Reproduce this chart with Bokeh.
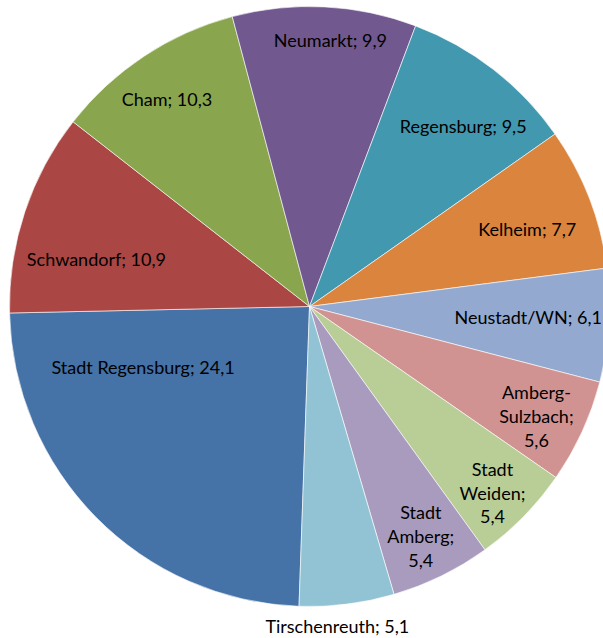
import math
from bokeh.plotting import figure
from bokeh.models import Range1d, ColumnDataSource
from bokeh.core.properties import value
from bokeh.embed import file_html
from bokeh.resources import INLINE

# ---- data ----
regions = ["Stadt Regensburg", "Schwandorf", "Cham", "Neumarkt", "Regensburg",
           "Kelheim", "Neustadt/WN", "Amberg-Sulzbach", "Stadt Weiden",
           "Stadt Amberg", "Tirschenreuth"]
shares = [24.1, 10.9, 10.3, 9.9, 9.5, 7.7, 6.1, 5.6, 5.4, 5.4, 5.1]
label_texts = ["Stadt Regensburg; 24,1", "Schwandorf; 10,9", "Cham; 10,3",
               "Neumarkt; 9,9", "Regensburg; 9,5", "Kelheim; 7,7",
               "Neustadt/WN; 6,1", "Amberg-\nSulzbach;\n5,6", "Stadt\nWeiden;\n5,4",
               "Stadt\nAmberg;\n5,4", "Tirschenreuth; 5,1"]

# ---- style / layout ----
colors = ["#4572A7", "#AA4643", "#89A54E", "#71588F", "#4198AF", "#DB843D",
          "#93A9CF", "#D19392", "#B9CD96", "#A99BBD", "#92C3D4"]
first_angle = 268.0   # degrees, math convention; slices run clockwise
R = 300.0
label_r = [0.59, 0.728, 0.84, 0.89, 0.79, 0.77, 0.73, 0.84, 0.87, 0.85, 1.07]
label_nudge = [-24.7, 5.7, 1.0, -1.6, -2.6, -1.7, 1.0, -1.1, -1.0, -0.2, -2.2]

total = sum(shares)
starts, ends, lx, ly = [], [], [], []
acc = 0.0
for v, lr, nd in zip(shares, label_r, label_nudge):
    a0 = first_angle - acc / total * 360.0
    a1 = first_angle - (acc + v) / total * 360.0
    starts.append(math.radians(a0))
    ends.append(math.radians(a1))
    mid = (a0 + a1) / 2.0 + nd
    lx.append(R * lr * math.cos(math.radians(mid)))
    ly.append(R * lr * math.sin(math.radians(mid)))
    acc += v

src = ColumnDataSource(dict(start=starts, end=ends, color=colors,
                            x=lx, y=ly, text=label_texts))

p = figure(width=603, height=638, output_backend="svg", toolbar_location=None,
           x_range=Range1d(-309, 294), y_range=Range1d(-332, 306),
           min_border=0)
p.axis.visible = False
p.grid.visible = False
p.outline_line_color = None
p.background_fill_color = "white"

p.wedge(x=0, y=0, radius=R, start_angle="start", end_angle="end",
        direction="clock", fill_color="color", line_color="white",
        line_width=1, line_alpha=0.6, source=src)

p.text(x="x", y="y", text="text", source=src, text_align="center",
       text_baseline="middle", text_font=value("Lato"),
       text_font_size="18px", text_color="#000000", text_line_height=1.08)

open("out.html", "w").write(file_html(p, INLINE))
